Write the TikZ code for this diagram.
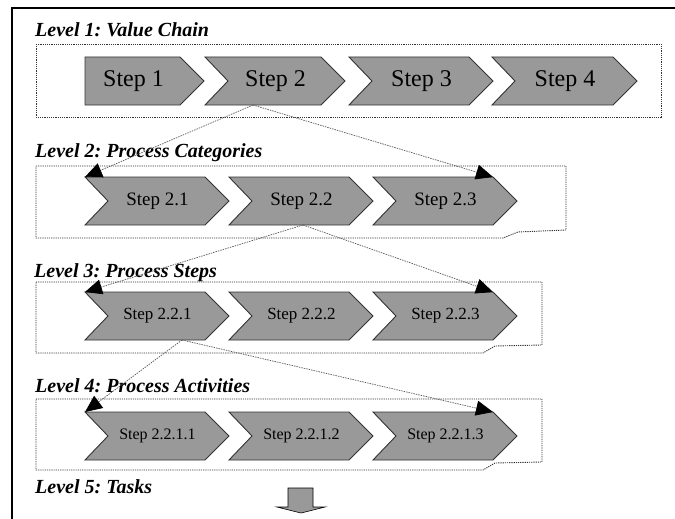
\documentclass[tikz,border=0pt]{standalone}
\usepackage{fontspec}
\setmainfont{Liberation Serif}
\usetikzlibrary{arrows.meta}
\frenchspacing

% chevron: name, left x, top y, tip x, notched (0/1), font size, text
\newcommand\chevron[7]{%
  \path[chevfill] (#2,#3) -- (#4-24,#3) -- (#4,#3+24) -- (#4-24,#3+48)
    -- (#2,#3+48) -- (#2+23*#5,#3+24) -- cycle;
  \draw[chevedge] (#2+23*#5,#3+24) -- (#2,#3) -- (#4-24,#3) -- (#4,#3+24)
    -- (#4-24,#3+48) -- (#2,#3+48) -- cycle;
  \node[steptext, font=\fontsize{#6}{#6}\selectfont] (#1)
    at ({(#2+23*#5+#4-24)/2+1},#3+24) {#7};
  \coordinate (#1-nw) at (#2,#3);
  \coordinate (#1-ne) at (#4-24,#3);
}

\tikzset{
  chevfill/.style={fill=black!40},
  chevedge/.style={draw=black!80, line width=0.9pt, line join=miter},
  steptext/.style={inner sep=0pt, text=black},
  levelbox/.style={draw=black!80, line width=0.9pt, dash pattern=on 1.2pt off 1pt},
  leveltitle/.style={anchor=base west, inner sep=0pt,
    font=\fontsize{20}{20}\selectfont\bfseries\itshape},
  link/.style={draw=black!65, line width=0.7pt, dash pattern=on 1.5pt off 1pt,
    -{Triangle[length=17pt, width=15pt, black]}},
}

\begin{document}
\begin{tikzpicture}[x=1pt, y=-1pt]
\useasboundingbox (0,0) rectangle (675,519);

% outer frame (open at the right and bottom)
\draw[line width=1.6pt] (12,530) -- (12,8) -- (680,8);

% level titles
\node[leveltitle] (t1) at (35,37)  {Level 1: Value Chain};
\node[leveltitle] (t2) at (35,157) {Level 2: Process Categories};
\node[leveltitle] (t3) at (34,277) {Level 3: Process Steps};
\node[leveltitle] (t4) at (35,392) {Level 4: Process Activities};
\node[leveltitle] (t5) at (35,493) {Level 5: Tasks};

% dotted level frames
\draw[levelbox] (36,44) rectangle (661,117);
\draw[levelbox] (36,166) -- (566,166) -- (566,230) -- (518,232) -- (503,238) -- (36,238) -- cycle;
\draw[levelbox] (36,282) -- (542,282) -- (542,345) -- (495,346) -- (483,353) -- (36,353) -- cycle;
\draw[levelbox] (36,399) -- (542,399) -- (542,462) -- (495,463) -- (483,470) -- (36,470) -- cycle;

% level 1
\chevron{s1}{85}{57}{204}{0}{24}{Step 1}
\chevron{s2}{205}{57}{345}{1}{24}{Step 2}
\chevron{s3}{349}{57}{493}{1}{24}{Step 3}
\chevron{s4}{492}{57}{637}{1}{24}{Step 4}

% level 2
\chevron{s21}{85}{177}{229}{1}{19}{Step 2.1}
\chevron{s22}{229}{177}{373}{1}{19}{Step 2.2}
\chevron{s23}{373}{177}{517}{1}{19}{Step 2.3}

% level 3
\chevron{s221}{85}{292}{229}{1}{17}{Step 2.2.1}
\chevron{s222}{229}{292}{373}{1}{17}{Step 2.2.2}
\chevron{s223}{373}{292}{517}{1}{17}{Step 2.2.3}

% level 4
\chevron{s2211}{85}{412}{229}{1}{16}{Step 2.2.1.1}
\chevron{s2212}{229}{412}{373}{1}{16}{Step 2.2.1.2}
\chevron{s2213}{373}{412}{517}{1}{16}{Step 2.2.1.3}

% drill-down links
\coordinate (d2) at (253,105);
\coordinate (d22) at (303,225);
\coordinate (d221) at (182,340);
\draw[link] (d2) -- (s21-nw);
\draw[link] (d2) -- (s23-ne);
\draw[link] (d22) -- (s221-nw);
\draw[link] (d22) -- (s223-ne);
\draw[link] (d221) -- (s2211-nw);
\draw[link] (d221) -- (s2213-ne);

% block arrow towards the tasks level
\draw[fill=black!40, draw=black, line width=0.6pt, line join=miter]
  (288,488) -- (313,488) -- (313,507) -- (325,507) -- (301,513)
  -- (277,507) -- (288,507) -- cycle;
\end{tikzpicture}
\end{document}
